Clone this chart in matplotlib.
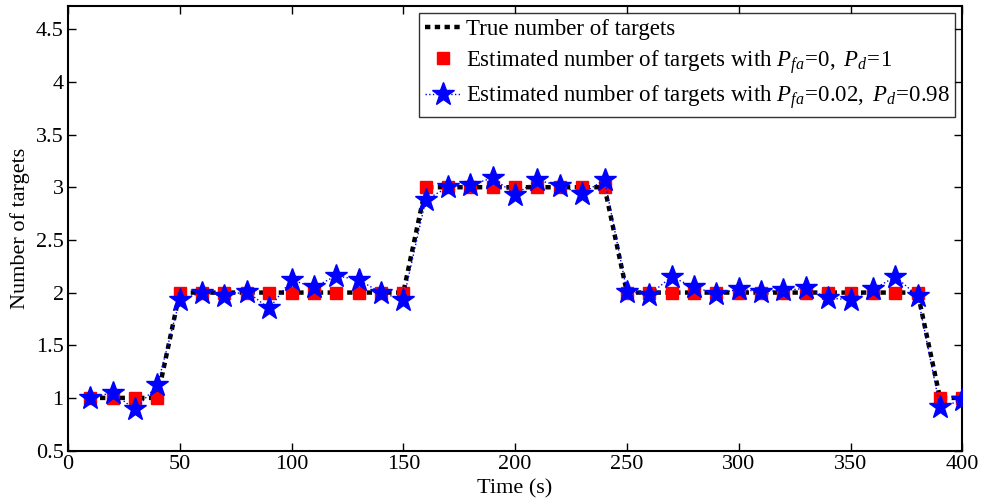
import matplotlib
matplotlib.use("Agg")
import matplotlib.pyplot as plt

plt.rcParams['font.family'] = ['Liberation Serif', 'DejaVu Serif']
plt.rcParams['mathtext.fontset'] = 'custom'
plt.rcParams['mathtext.rm'] = 'Liberation Serif'
plt.rcParams['mathtext.it'] = 'Liberation Serif:italic'

# time steps (s)
time_s = [10, 20, 30, 40, 50, 60, 70, 80, 90, 100,
          110, 120, 130, 140, 150, 160, 170, 180, 190, 200,
          210, 220, 230, 240, 250, 260, 270, 280, 290, 300,
          310, 320, 330, 340, 350, 360, 370, 380, 390, 400]

true_count = [1, 1, 1, 1, 2, 2, 2, 2, 2, 2,
              2, 2, 2, 2, 2, 3, 3, 3, 3, 3,
              3, 3, 3, 3, 2, 2, 2, 2, 2, 2,
              2, 2, 2, 2, 2, 2, 2, 2, 1, 1]

# estimate without clutter / missed detections
est_ideal = [1, 1, 1, 1, 2, 2, 2, 2, 2, 2,
             2, 2, 2, 2, 2, 3, 3, 3, 3, 3,
             3, 3, 3, 3, 2, 2, 2, 2, 2, 2,
             2, 2, 2, 2, 2, 2, 2, 2, 1, 1]

# estimate with Pfa=0.02, Pd=0.98
est_noisy = [1.00, 1.05, 0.89, 1.12, 1.93, 2.00, 1.97, 2.01, 1.85, 2.12,
             2.05, 2.16, 2.12, 2.00, 1.93, 2.88, 3.00, 3.02, 3.09, 2.93,
             3.07, 3.01, 2.94, 3.07, 2.01, 1.98, 2.15, 2.05, 1.99, 2.03,
             2.01, 2.02, 2.04, 1.95, 1.93, 2.03, 2.15, 1.97, 0.91, 0.98]

y_ticks = [0.5, 1, 1.5, 2, 2.5, 3, 3.5, 4, 4.5]
y_tick_labels = ['0.5', '1', '1.5', '2', '2.5', '3', '3.5', '4', '4.5']
x_ticks = [0, 50, 100, 150, 200, 250, 300, 350, 400]

EQ = r'\!=\!'

fig = plt.figure(figsize=(9.84, 5.04), dpi=100)
ax = fig.add_axes([0.069, 0.106, 0.909, 0.882])

ax.plot(time_s, true_count, color='black', linestyle=(0, (1.2, 1.0)),
        linewidth=3.2, label='True number of targets', zorder=2)
ax.plot(time_s, est_ideal, linestyle='none', marker='s', markersize=8.5,
        color='red', markeredgecolor='red',
        label=r'Estimated number of targets with $\mathit{P_{fa}' + EQ + r'0,\ P_d' + EQ + r'1}$',
        zorder=3)
ax.plot(time_s, est_noisy, color='blue', linestyle=':', linewidth=1.0,
        marker='*', markersize=17, markerfacecolor='blue', markeredgecolor='blue',
        label=r'Estimated number of targets with $\mathit{P_{fa}' + EQ + r'0.02,\ P_d' + EQ + r'0.98}$',
        zorder=4)

ax.set_xlim(0, 400)
ax.set_ylim(0.5, 4.72)
ax.set_xticks(x_ticks)
ax.set_yticks(y_ticks)
ax.set_yticklabels(y_tick_labels)
ax.tick_params(direction='in', labelsize=16, length=6, width=1,
               top=True, right=True, pad=3)
for sp in ax.spines.values():
    sp.set_linewidth(1.5)

ax.set_xlabel('Time (s)', fontsize=16, labelpad=4)
ax.set_ylabel('Number of targets', fontsize=16, labelpad=4)

leg = ax.legend(loc='upper right', fontsize=16.5, frameon=True, fancybox=False,
                edgecolor='black', borderpad=0.25, labelspacing=0.35,
                handlelength=1.6, handletextpad=0.2, borderaxespad=0.3)
leg.get_frame().set_linewidth(1.0)

fig.savefig('out.png', dpi=100)
